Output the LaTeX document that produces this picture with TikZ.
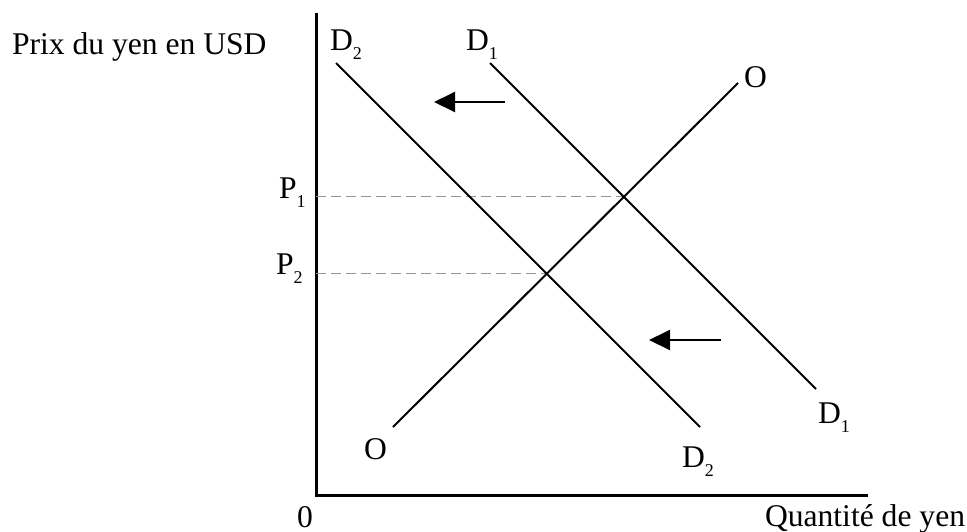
\documentclass[tikz,border=0pt]{standalone}
\usepackage{fontspec}
\setmainfont{Liberation Serif}
\usetikzlibrary{arrows.meta}
\definecolor{dashgray}{RGB}{150,150,150}
\newcommand{\sbs}[1]{\raisebox{-4.5pt}{\fontsize{9}{10}\selectfont #1}}
\tikzset{
  lbl/.style={inner sep=0pt, outer sep=0pt, anchor=base west, font=\fontsize{15.8}{19}\selectfont},
  curve/.style={line width=1pt, black},
  axisline/.style={line width=1.5pt, black},
  guide/.style={line width=0.9pt, dashgray, dash pattern=on 5pt off 2.5pt},
  shiftarrow/.style={line width=1pt, -{Triangle[length=10.5pt,width=10pt]}}
}
\begin{document}
\begin{tikzpicture}[x=0.5pt,y=-0.5pt]
\useasboundingbox (0,0) rectangle (967,531);
% axes
\coordinate (ytop) at (316,13);
\coordinate (orig) at (316,495);
\coordinate (xend) at (868,495);
\draw[axisline] (ytop) -- (orig) -- (xend);
% curves
\coordinate (d2a) at (336,63);
\coordinate (d2b) at (700,427);
\coordinate (d1a) at (490,63);
\coordinate (d1b) at (816,389);
\coordinate (oa) at (393,427);
\coordinate (ob) at (738,83);
\coordinate (e1) at (623.5,196.5);
\coordinate (e2) at (546.5,273.5);
\coordinate (p1ax) at (316,196.5);
\coordinate (p2ax) at (316,273.5);
\draw[guide] (p1ax) -- (e1);
\draw[guide] (p2ax) -- (e2);
\draw[curve] (d2a) -- (d2b);
\draw[curve] (d1a) -- (d1b);
\draw[curve] (oa) -- (ob);
% shift arrows
\coordinate (a1s) at (505,102);
\coordinate (a1e) at (434,102);
\coordinate (a2s) at (721,340);
\coordinate (a2e) at (649,340);
\draw[shiftarrow] (a1s) -- (a1e);
\draw[shiftarrow] (a2s) -- (a2e);
% labels
\node[lbl] (ylab) at (12,54) {Prix du yen en USD};
\node[lbl] (d2top) at (330,50) {D\sbs{2}};
\node[lbl] (d1top) at (466,50) {D\sbs{1}};
\node[lbl] (otop) at (744,87) {O};
\node[lbl] (p1) at (279,198) {P\sbs{1}};
\node[lbl] (p2) at (276,274) {P\sbs{2}};
\node[lbl] (obot) at (364,459) {O};
\node[lbl] (d2bot) at (682,467) {D\sbs{2}};
\node[lbl] (d1bot) at (818,423) {D\sbs{1}};
\node[lbl] (zero) at (297,527) {0};
\node[lbl] (xlab) at (765,526) {Quantité de yen};
\end{tikzpicture}
\end{document}
